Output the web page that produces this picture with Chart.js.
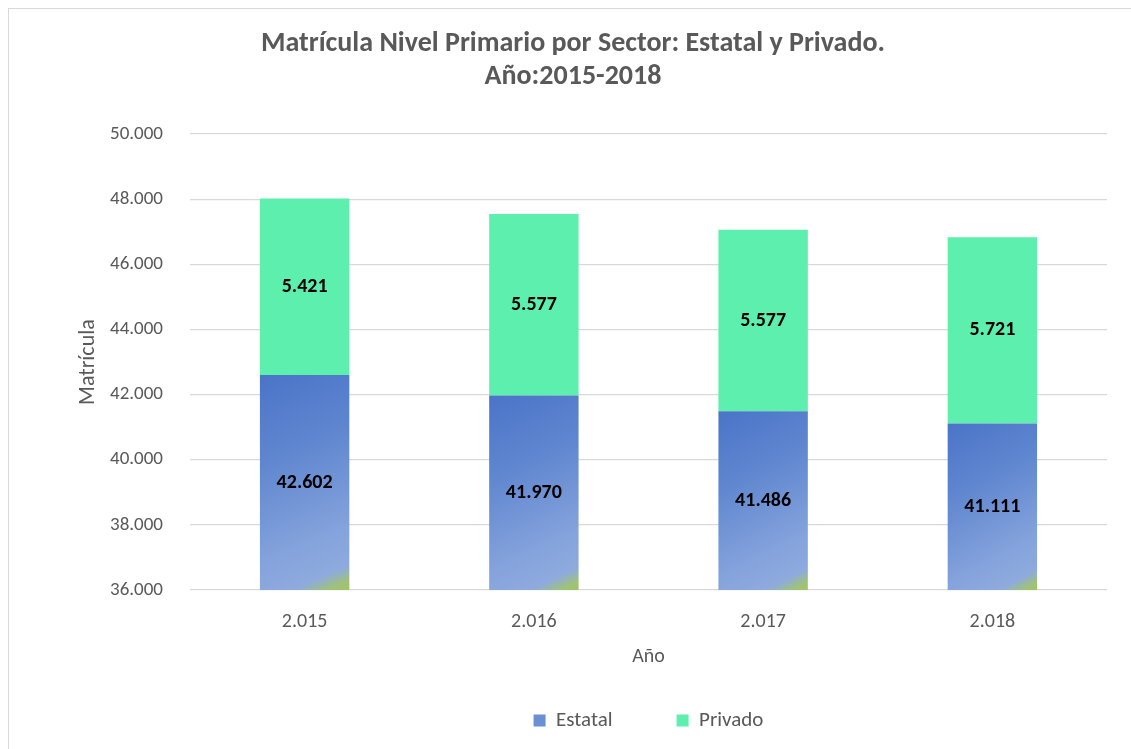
<!DOCTYPE html>
<html><head><meta charset="utf-8">
<script src="https://cdn.jsdelivr.net/npm/chart.js@4/dist/chart.umd.min.js"></script>
<style>
html,body{margin:0;padding:0;background:#fff;}
#wrap{position:absolute;left:8px;top:8px;width:1140px;height:760px;border:1px solid #d9d9d9;box-sizing:border-box;}
#c{position:absolute;left:0;top:0;}
</style></head>
<body>
<div id="wrap"></div>
<canvas id="c" width="1131" height="749"></canvas>
<script>
const categories = ['2.015', '2.016', '2.017', '2.018'];
const estatal = [42602, 41970, 41486, 41111];
const privado = [5421, 5577, 5577, 5721];
const seriesNames = ['Estatal', 'Privado'];
const titleLines = ['Matrícula Nivel Primario por Sector: Estatal y Privado.', 'Año:2015-2018'];

const FONT = 'Carlito, Lato, "Liberation Sans", sans-serif';
const GREY = '#595959';
const GREEN = '#5defad';
const fmt = v => String(Math.round(v)).replace(/\B(?=(\d{3})+(?!\d))/g, '.');

function blueFill(ctx) {
  const chart = ctx.chart;
  const area = chart.chartArea;
  if (!area || ctx.dataIndex === undefined) return '#5b82cc';
  const n = chart.data.labels.length;
  const cw = area.width / n;
  const cx = area.left + cw * (ctx.dataIndex + 0.5);
  const hw = cw * 0.2;
  const top = chart.scales.y.getPixelForValue(ctx.raw);
  const g = chart.ctx.createLinearGradient(cx - hw, Math.max(top, area.top), cx + hw, area.bottom);
  g.addColorStop(0, '#4a74c8');
  g.addColorStop(0.35, '#5f86cf');
  g.addColorStop(0.75, '#85a3dc');
  g.addColorStop(0.9, '#8eaade');
  g.addColorStop(0.96, '#9fc27a');
  g.addColorStop(1, '#a3c35e');
  return g;
}

const labelPlugin = {
  id: 'barLabels',
  afterDatasetsDraw(chart) {
    const {ctx, chartArea} = chart;
    ctx.save();
    ctx.font = 'bold 20px ' + FONT;
    ctx.fillStyle = '#000';
    ctx.textAlign = 'center';
    ctx.textBaseline = 'middle';
    chart.data.datasets.forEach((ds, di) => {
      chart.getDatasetMeta(di).data.forEach((el, i) => {
        const t = Math.max(Math.min(el.y, el.base), chartArea.top);
        const b = Math.min(Math.max(el.y, el.base), chartArea.bottom);
        ctx.fillText(fmt(ds.data[i]), el.x, (t + b) / 2);
      });
    });
    ctx.restore();
  }
};

new Chart(document.getElementById('c'), {
  type: 'bar',
  data: {
    labels: categories,
    datasets: [
      { label: seriesNames[0], data: estatal, backgroundColor: blueFill, borderWidth: 0 },
      { label: seriesNames[1], data: privado, backgroundColor: GREEN, borderWidth: 0 }
    ]
  },
  options: {
    responsive: false,
    animation: false,
    devicePixelRatio: 1,
    datasets: { bar: { barPercentage: 0.39, categoryPercentage: 1 } },
    layout: { padding: { left: 39, right: 24, top: 0, bottom: 8 } },
    plugins: {
      title: {
        display: true, text: titleLines, color: GREY,
        font: { family: FONT, size: 28, weight: 'bold', lineHeight: 1.18 },
        padding: { top: 27, bottom: 41 }
      },
      legend: {
        position: 'bottom',
        fullSize: false,
        labels: {
          color: GREY, font: { family: FONT, size: 21 },
          boxWidth: 12, boxHeight: 12, padding: 64,
          generateLabels(chart) {
            return chart.data.datasets.map((d, i) => ({
              text: d.label, fillStyle: i === 0 ? '#6a8fd2' : GREEN,
              strokeStyle: 'transparent', lineWidth: 0, datasetIndex: i, fontColor: GREY
            }));
          }
        }
      },
      tooltip: { enabled: false }
    },
    scales: {
      x: {
        stacked: true,
        afterFit(s) { s.height = 56; },
        grid: { display: false },
        border: { display: false },
        ticks: { color: GREY, font: { family: FONT, size: 20 }, padding: 12 },
        title: { display: true, text: 'Año', color: GREY, font: { family: FONT, size: 20 }, padding: { top: 0, bottom: -23 } }
      },
      y: {
        stacked: true,
        min: 36000, max: 50000,
        afterFit(s) { s.width = 151; },
        grid: { color: '#d9d9d9', lineWidth: 1.3, drawTicks: false },
        border: { display: false },
        ticks: { stepSize: 2000, color: GREY, font: { family: FONT, size: 19 }, padding: 27, callback: v => fmt(v) },
        title: { display: true, text: 'Matrícula', color: GREY, font: { family: FONT, size: 22 }, padding: { top: 36, bottom: 0 } }
      }
    }
  },
  plugins: [labelPlugin]
});
</script>
</body></html>
